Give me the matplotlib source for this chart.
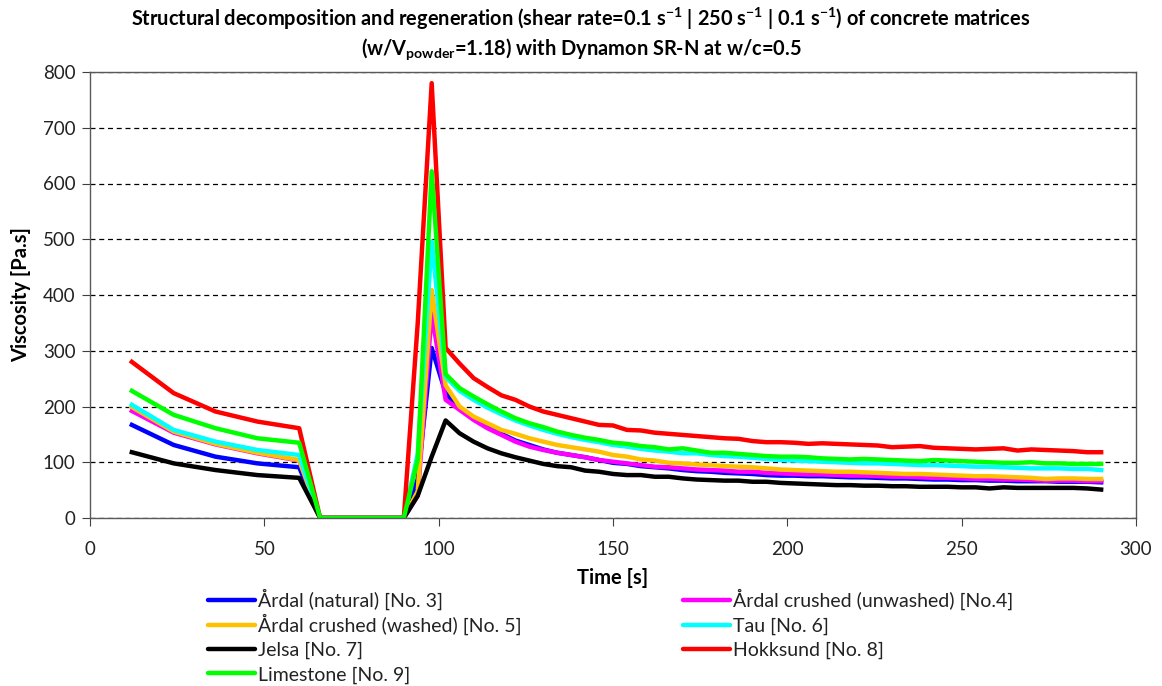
import matplotlib
matplotlib.use("Agg")
import matplotlib.pyplot as plt
from matplotlib.lines import Line2D

plt.rcParams['font.family'] = ['Lato', 'DejaVu Sans']
plt.rcParams['mathtext.default'] = 'regular'

# time stamps [s]
time_pre = [12, 24, 36, 48, 60]
time_rest = [66, 72, 78, 84, 90]
time_post = list(range(94, 291, 4))
time = time_pre + time_rest + time_post

zeros = [0, 0, 0, 0, 0]

ardal_nat_pre = [167, 131, 110, 98, 91]
ardal_nat_post = [70, 305, 224, 197, 179, 164, 151, 139, 131, 123, 117, 113, 109, 104, 99, 97, 93, 91, 89, 86, 84, 83, 81, 80, 79, 77, 76,
                  76, 75, 75, 74, 73, 73, 72, 71, 71, 70, 69, 69, 68, 68, 67, 67, 66, 66, 66, 65, 65, 65, 64]

ardal_unw_pre = [192, 153, 132, 116, 103]
ardal_unw_post = [40, 367, 212, 194, 176, 161, 149, 137, 128, 122, 117, 113, 109, 104, 101, 98, 95, 92, 91, 89, 87, 86, 85, 83, 83, 81, 80,
                  79, 78, 78, 77, 76, 76, 75, 74, 74, 73, 72, 72, 71, 70, 70, 69, 69, 68, 67, 67, 67, 66, 66]

ardal_wash_pre = [199, 155, 133, 117, 104]
ardal_wash_post = [48, 409, 238, 200, 182, 170, 158, 151, 143, 137, 131, 127, 123, 119, 113, 110, 105, 103, 99, 98, 96, 95, 93, 92, 91, 89, 87,
                   86, 85, 84, 83, 83, 82, 81, 80, 79, 79, 78, 77, 76, 75, 75, 74, 73, 72, 70, 71, 71, 70, 70]

tau_pre = [203, 158, 137, 122, 113]
tau_post = [115, 496, 253, 228, 212, 198, 186, 175, 166, 158, 151, 145, 140, 136, 131, 128, 124, 121, 119, 116, 116, 113, 111, 110, 108, 106, 104,
            103, 102, 101, 100, 99, 98, 98, 97, 96, 95, 95, 94, 93, 92, 92, 91, 90, 89, 89, 89, 88, 88, 86]

jelsa_pre = [118, 98, 86, 77, 72]
jelsa_post = [40, 110, 175, 152, 137, 125, 116, 109, 103, 97, 93, 91, 85, 83, 79, 77, 77, 74, 74, 71, 69, 68, 67, 67, 65, 65, 63,
              62, 61, 60, 59, 59, 58, 58, 57, 57, 56, 56, 56, 55, 55, 53, 55, 54, 54, 54, 54, 54, 53, 51]

hokk_pre = [280, 224, 191, 173, 161]
hokk_post = [350, 780, 305, 277, 251, 235, 220, 212, 200, 191, 185, 179, 173, 167, 166, 158, 157, 153, 151, 149, 147, 145, 143, 142, 138, 136, 136,
             135, 133, 134, 133, 132, 131, 130, 127, 128, 129, 126, 125, 124, 123, 124, 125, 121, 123, 122, 121, 120, 118, 118]

lime_pre = [228, 185, 161, 143, 135]
lime_post = [105, 622, 258, 233, 218, 204, 191, 179, 170, 163, 155, 149, 144, 140, 135, 133, 129, 127, 123, 125, 121, 117, 117, 115, 113, 111, 110,
             110, 109, 107, 106, 105, 106, 105, 104, 103, 102, 104, 103, 102, 101, 100, 99, 99, 100, 98, 98, 97, 97, 97]

labels = ["Årdal (natural) [No. 3]", "Årdal crushed (unwashed) [No.4]", "Årdal crushed (washed) [No. 5]",
          "Tau [No. 6]", "Jelsa [No. 7]", "Hokksund [No. 8]", "Limestone [No. 9]"]
colors = ["#0000FF", "#FF00FF", "#FFC000", "#00FFFF", "#000000", "#FF0000", "#00FF00"]
series = [ardal_nat_pre + zeros + ardal_nat_post,
          ardal_unw_pre + zeros + ardal_unw_post,
          ardal_wash_pre + zeros + ardal_wash_post,
          tau_pre + zeros + tau_post,
          jelsa_pre + zeros + jelsa_post,
          hokk_pre + zeros + hokk_post,
          lime_pre + zeros + lime_post]

W, H = 1162, 686
fig = plt.figure(figsize=(W/100, H/100), dpi=100)
ax = fig.add_axes([90/W, 1-518/H, (1136-90)/W, (518-72)/H])

for y, c, lab in zip(series, colors, labels):
    ax.plot(time, y, color=c, lw=3.2, label=lab, solid_joinstyle='round')

ax.set_xlim(0, 300)
ax.set_ylim(0, 800)
ax.set_xticks(range(0, 301, 50))
ax.set_yticks(range(0, 801, 100))
ax.yaxis.grid(True, linestyle=(0, (4, 3)), color='black', lw=0.9)
ax.set_axisbelow(True)
ax.tick_params(direction='out', length=5.5, labelsize=13.5, colors='#404040', labelcolor='#222222')
ax.tick_params(axis='x', pad=11)
ax.tick_params(axis='y', pad=5)
for s in ax.spines.values():
    s.set_color('#595959')
    s.set_linewidth(1.0)

ax.set_xlabel("Time [s]", fontsize=14.5, fontweight='bold', labelpad=7)
ax.set_ylabel("Viscosity [Pa.s]", fontsize=14.5, fontweight='bold', labelpad=8)

fig.text(0.5, 0.992,
         "Structural decomposition and regeneration (shear rate=0.1 s$^{-1}$ | 250 s$^{-1}$ | 0.1 s$^{-1}$) of concrete matrices\n"
         "(w/V$_{powder}$=1.18) with Dynamon SR-N at w/c=0.5",
         ha='center', va='top', fontsize=14.4, fontweight='bold', linespacing=1.25)

# legend laid out in two columns below the axes (entries in row-major order)
col_x = [208, 683]
row_y = [600, 624.5, 649, 673.3]
handle_len = 47
for i, (c, lab) in enumerate(zip(colors, labels)):
    col = i % 2
    row = i // 2
    x0 = col_x[col]
    yy = row_y[row]
    fig.add_artist(Line2D([x0/W, (x0+handle_len)/W], [1-yy/H, 1-yy/H],
                          transform=fig.transFigure, color=c, lw=3.2, solid_capstyle='round'))
    fig.text((x0+handle_len+3)/W, 1-(yy+7)/H, lab, ha='left', va='baseline',
             fontsize=14, color='#222222')

fig.savefig("out.png", dpi=100)
